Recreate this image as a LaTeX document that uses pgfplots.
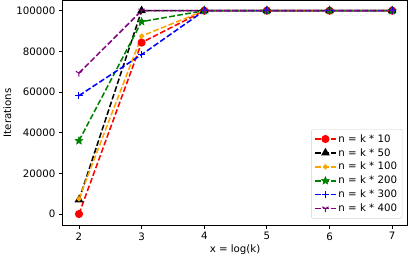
\documentclass[border=0pt]{standalone}
\usepackage{fontspec}
\setmainfont{DejaVu Sans}
\usepackage{pgfplots}
\pgfplotsset{compat=1.18}
\usetikzlibrary{plotmarks}
\definecolor{mplorange}{RGB}{255,165,0}
\definecolor{mplgreen}{RGB}{0,128,0}
\definecolor{mplpurple}{RGB}{128,0,128}
\pgfdeclareplotmark{fstar}{%
  \pgfpathmoveto{\pgfqpointpolar{90}{\pgfplotmarksize}}%
  \pgfpathlineto{\pgfqpointpolar{126}{0.45\pgfplotmarksize}}%
  \pgfpathlineto{\pgfqpointpolar{162}{\pgfplotmarksize}}%
  \pgfpathlineto{\pgfqpointpolar{198}{0.45\pgfplotmarksize}}%
  \pgfpathlineto{\pgfqpointpolar{234}{\pgfplotmarksize}}%
  \pgfpathlineto{\pgfqpointpolar{270}{0.45\pgfplotmarksize}}%
  \pgfpathlineto{\pgfqpointpolar{306}{\pgfplotmarksize}}%
  \pgfpathlineto{\pgfqpointpolar{342}{0.45\pgfplotmarksize}}%
  \pgfpathlineto{\pgfqpointpolar{18}{\pgfplotmarksize}}%
  \pgfpathlineto{\pgfqpointpolar{54}{0.45\pgfplotmarksize}}%
  \pgfpathclose
  \pgfusepathqfillstroke}
\begin{document}
\begin{tikzpicture}[font=\fontsize{10}{12}\selectfont]
\begin{axis}[
  scale only axis,
  width=336bp, height=219bp,
  xmin=1.738, xmax=7.246,
  ymin=-5556, ymax=105050,
  xtick={2,3,4,5,6,7},
  xticklabels={2,3,4,5,6,7},
  ytick={0,20000,40000,60000,80000,100000},
  yticklabels={0,20000,40000,60000,80000,100000},
  scaled y ticks=false,
  tick align=outside,
  xtick pos=bottom, ytick pos=left,
  major tick length=3.5pt,
  tick style={black, line width=0.8pt},
  axis line style={line width=0.8pt},
  xlabel={x = log(k)},
  ylabel={Iterations},
  xlabel style={yshift=2pt},
  ylabel style={yshift=-2pt},
  every axis plot/.append style={line width=1.5pt, dash pattern=on 5.55pt off 2.4pt},
  legend image code/.code={\draw[mark repeat=2,mark phase=2,#1] plot coordinates {(0pt,0pt) (10pt,0pt) (20pt,0pt)};},
  legend cell align=left,
  legend style={at={(0.985,0.03)}, anchor=south east, draw=gray!35, rounded corners=2pt, font=\fontsize{10}{12}\selectfont, row sep=0.5pt, inner sep=3pt},
]
\addplot[red, mark=*, mark size=3.2pt, mark options={solid}] coordinates {(2,0) (3,84300) (4,100000) (5,100000) (6,100000) (7,100000)};
\addlegendentry{n = k * 10}
\addplot[black, mark=triangle*, mark size=3.5pt, mark options={solid}] coordinates {(2,7000) (3,100000) (4,100000) (5,100000) (6,100000) (7,100000)};
\addlegendentry{n = k * 50}
\addplot[mplorange, mark=*, mark size=1.7pt, mark options={solid}] coordinates {(2,7500) (3,87500) (4,100000) (5,100000) (6,100000) (7,100000)};
\addlegendentry{n = k * 100}
\addplot[mplgreen, mark=fstar, mark size=4pt, mark options={solid, fill=mplgreen, line width=0.5pt}] coordinates {(2,36000) (3,94600) (4,100000) (5,100000) (6,100000) (7,100000)};
\addlegendentry{n = k * 200}
\addplot[blue, mark=+, mark size=3.5pt, mark options={solid, line width=1pt}] coordinates {(2,58200) (3,78400) (4,100000) (5,100000) (6,100000) (7,100000)};
\addlegendentry{n = k * 300}
\addplot[mplpurple, mark=Mercedes star flipped, mark size=3.5pt, mark options={solid, line width=1pt}] coordinates {(2,69300) (3,100000) (4,100000) (5,100000) (6,100000) (7,100000)};
\addlegendentry{n = k * 400}
\end{axis}
\end{tikzpicture}
\end{document}
